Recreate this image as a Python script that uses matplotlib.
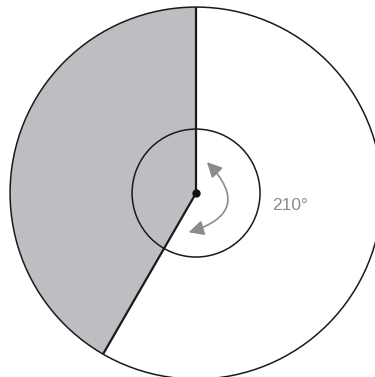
import numpy as np
import matplotlib.pyplot as plt
from matplotlib.patches import Circle, Wedge, FancyArrowPatch

# angles in degrees, counter-clockwise from +x
shaded_start = 90
shaded_end = 240
sweep_label = "210°"
outer_r = 1.0
inner_r = 0.344

fig = plt.figure(figsize=(3.75, 3.77), dpi=100)
ax = fig.add_axes([0, 0, 1, 1])
ax.set_xlim(-1.054, 0.962)
ax.set_ylim(-0.989, 1.038)
ax.set_aspect("equal")
ax.axis("off")

ax.add_patch(Wedge((0, 0), outer_r, shaded_start, shaded_end,
                   facecolor="#bdbec1", edgecolor="none"))
ax.add_patch(Circle((0, 0), outer_r, fill=False, edgecolor="#1a1a1a", lw=1.1))
ax.add_patch(Circle((0, 0), inner_r, fill=False, edgecolor="#1a1a1a", lw=1.1))

for a in (shaded_start, shaded_end):
    t = np.radians(a)
    ax.plot([0, outer_r * np.cos(t)], [0, outer_r * np.sin(t)],
            color="#1a1a1a", lw=1.6, solid_capstyle="butt")

ax.plot(0, 0, "o", color="#111111", ms=5)

arrow = FancyArrowPatch((0.048, 0.177), (-0.054, -0.215),
                        connectionstyle="arc3,rad=-0.85",
                        arrowstyle="<|-|>,head_length=0.7,head_width=0.35",
                        mutation_scale=13, color="#8a8b8d", lw=1.2)
ax.add_patch(arrow)

ax.text(0.505, -0.065, sweep_label, color="#8a8b8d", fontsize=12.5,
        family=["Liberation Sans", "DejaVu Sans"], ha="center", va="center")

fig.savefig("out.png", dpi=100)
